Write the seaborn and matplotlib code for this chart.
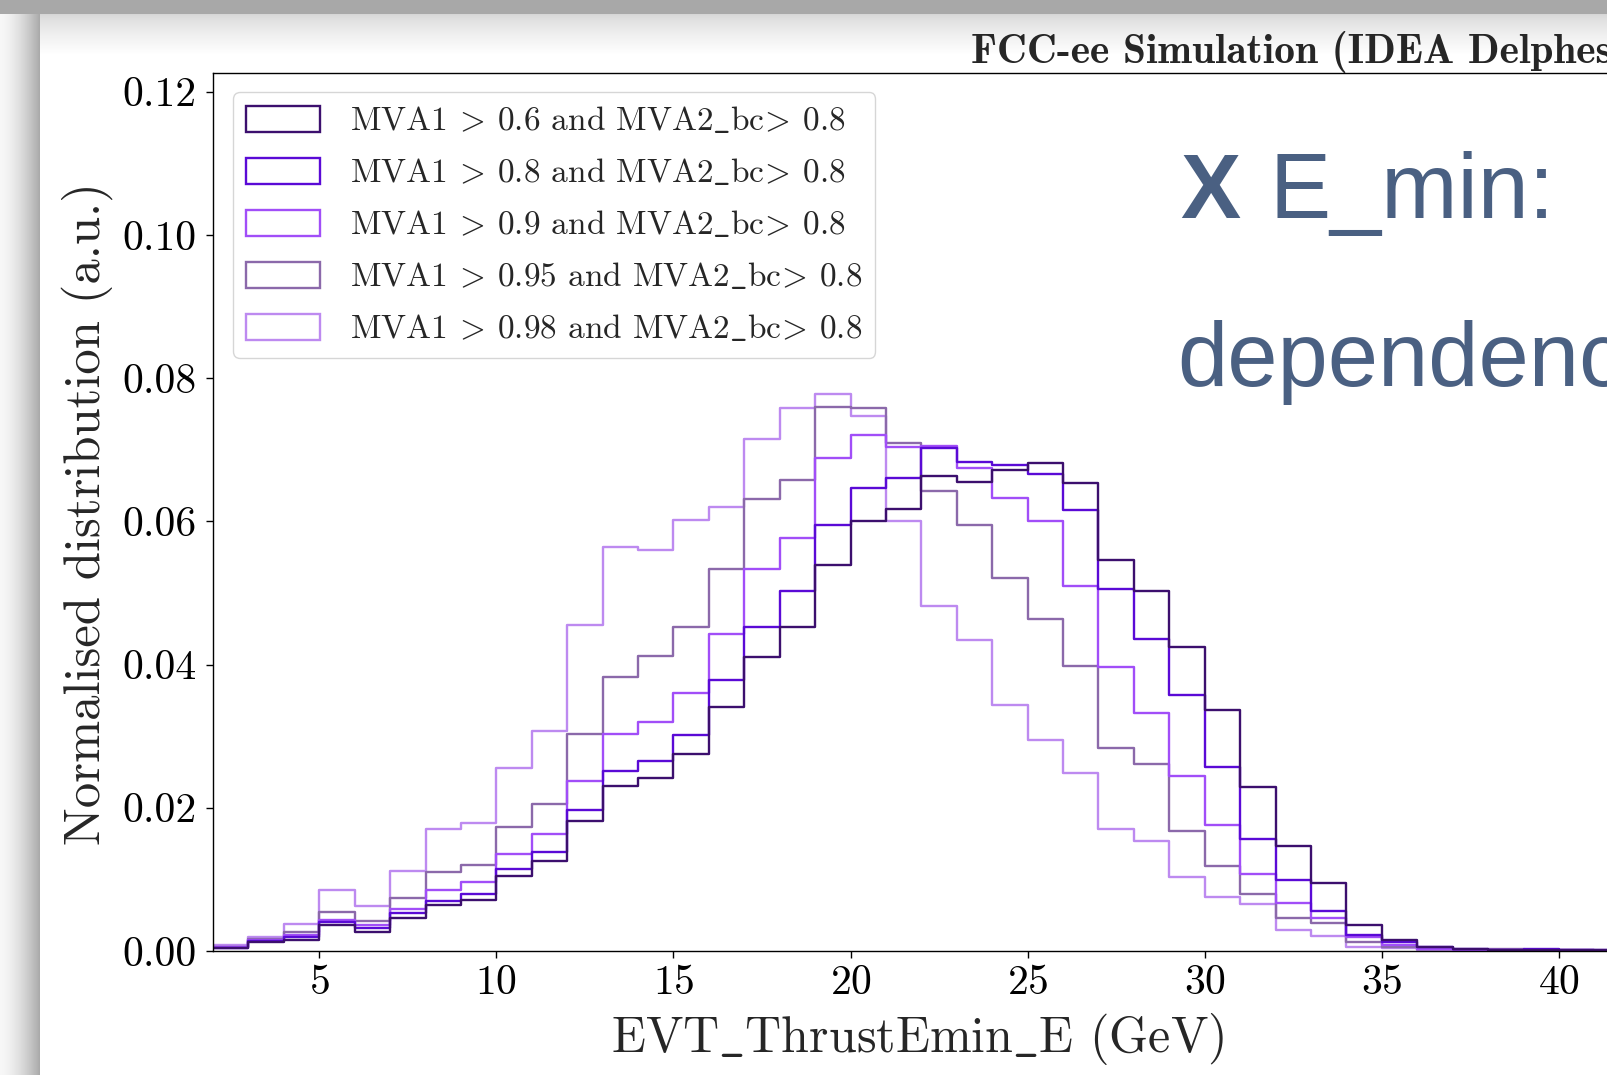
import numpy as np
import pandas as pd
import matplotlib
matplotlib.use("Agg")
import matplotlib.pyplot as plt
import seaborn as sns
from matplotlib.patches import Patch
from matplotlib.ticker import FormatStrFormatter, FixedLocator

# ---------------- data ----------------
bin_edges = list(range(2, 43))          # 1 GeV bins from 2 to 42 GeV
bin_centres = [e + 0.5 for e in bin_edges[:-1]]

labels = [
    r"MVA1 $\!>\!$ 0.6 and MVA2$\_$bc$\!>\!$ 0.8",
    r"MVA1 $\!>\!$ 0.8 and MVA2$\_$bc$\!>\!$ 0.8",
    r"MVA1 $\!>\!$ 0.9 and MVA2$\_$bc$\!>\!$ 0.8",
    r"MVA1 $\!>\!$ 0.95 and MVA2$\_$bc$\!>\!$ 0.8",
    r"MVA1 $\!>\!$ 0.98 and MVA2$\_$bc$\!>\!$ 0.8",
]

mva_060 = [0.0004, 0.0012, 0.0016, 0.0036, 0.0026, 0.0046, 0.0064, 0.0071, 0.0105, 0.0126,
           0.0181, 0.0230, 0.0242, 0.0275, 0.0341, 0.0411, 0.0453, 0.0539, 0.0600, 0.0617,
           0.0663, 0.0655, 0.0671, 0.0681, 0.0653, 0.0546, 0.0502, 0.0425, 0.0337, 0.0229,
           0.0147, 0.0095, 0.0036, 0.0015, 0.0006, 0.0003, 0.0002, 0.0002, 0.0001, 0.0001]
mva_080 = [0.0004, 0.0014, 0.0019, 0.0041, 0.0032, 0.0053, 0.0070, 0.0080, 0.0115, 0.0138,
           0.0197, 0.0252, 0.0266, 0.0302, 0.0378, 0.0453, 0.0502, 0.0595, 0.0647, 0.0661,
           0.0702, 0.0683, 0.0678, 0.0666, 0.0616, 0.0505, 0.0436, 0.0357, 0.0257, 0.0156,
           0.0099, 0.0056, 0.0023, 0.0012, 0.0005, 0.0003, 0.0002, 0.0003, 0.0001, 0.0001]
mva_090 = [0.0005, 0.0016, 0.0022, 0.0043, 0.0036, 0.0058, 0.0085, 0.0096, 0.0135, 0.0164,
           0.0238, 0.0303, 0.0320, 0.0360, 0.0443, 0.0534, 0.0577, 0.0689, 0.0720, 0.0704,
           0.0705, 0.0675, 0.0632, 0.0600, 0.0509, 0.0396, 0.0333, 0.0244, 0.0176, 0.0107,
           0.0067, 0.0046, 0.0020, 0.0008, 0.0003, 0.0002, 0.0001, 0.0002, 0.0001, 0.0000]
mva_095 = [0.0005, 0.0017, 0.0026, 0.0055, 0.0042, 0.0074, 0.0110, 0.0120, 0.0173, 0.0205,
           0.0303, 0.0382, 0.0412, 0.0453, 0.0534, 0.0631, 0.0657, 0.0760, 0.0758, 0.0709,
           0.0642, 0.0595, 0.0521, 0.0463, 0.0398, 0.0284, 0.0261, 0.0168, 0.0119, 0.0079,
           0.0046, 0.0039, 0.0012, 0.0006, 0.0003, 0.0002, 0.0003, 0.0002, 0.0001, 0.0000]
mva_098 = [0.0008, 0.0019, 0.0038, 0.0085, 0.0063, 0.0112, 0.0171, 0.0179, 0.0255, 0.0307,
           0.0455, 0.0564, 0.0560, 0.0602, 0.0620, 0.0715, 0.0758, 0.0778, 0.0747, 0.0600,
           0.0482, 0.0434, 0.0344, 0.0294, 0.0249, 0.0171, 0.0153, 0.0104, 0.0075, 0.0065,
           0.0029, 0.0021, 0.0005, 0.0004, 0.0002, 0.0001, 0.0001, 0.0001, 0.0000, 0.0000]

series = [mva_060, mva_080, mva_090, mva_095, mva_098]
colors = ["#3c0f6e", "#5a0ad6", "#a14ef8", "#8b69aa", "#bd8af0"]

x_ticks = [5, 10, 15, 20, 25, 30, 35, 40]
y_ticks = [0.00, 0.02, 0.04, 0.06, 0.08, 0.10, 0.12]

df = pd.DataFrame({
    "E": np.tile(bin_centres, len(series)),
    "w": np.concatenate([np.asarray(s, dtype=float) for s in series]),
    "cut": np.repeat(labels, len(bin_centres)),
})

# ---------------- styling ----------------
sns.set_style("ticks")
plt.rcParams["font.family"] = ["cmr10", "DejaVu Serif"]
plt.rcParams["mathtext.fontset"] = "cm"
plt.rcParams["axes.formatter.use_mathtext"] = True
plt.rcParams["axes.unicode_minus"] = False

W, H = 1608, 1075
fig = plt.figure(figsize=(W / 100, H / 100), dpi=100)
fig.patch.set_facecolor("white")

# slide background with its drop shadows
bg = np.ones((H, W, 3))
yy = np.arange(H)[:, None]
top_shadow = np.clip((yy - 14) / 40.0, 0, 1)
inner = 0.84 + 0.16 * top_shadow ** 0.7
bg[:, :, :] = inner[:, :, None] * np.ones((1, W, 1))
left = 0.97 - 0.30 * (np.arange(40) / 39.0) ** 1.6
bg[:, :40, :] = left[None, :, None]
bg[:14, :, :] = 0.66
fig.figimage(bg, xo=0, yo=0, origin="upper", zorder=-5)

px_per_gev = 35.42
ax_left, ax_bottom, ax_top = 213, 951, 73
xlim = (2, 44)
ax = fig.add_axes([ax_left / W, 1 - ax_bottom / H,
                   (xlim[1] - xlim[0]) * px_per_gev / W, (ax_bottom - ax_top) / H])
ax.set_facecolor("white")

sns.histplot(data=df, x="E", weights="w", hue="cut", hue_order=labels,
             bins=bin_edges, element="step", fill=False, palette=colors,
             linewidth=1.7, legend=False, ax=ax)

ax.set_xlim(*xlim)
ax.set_ylim(0, 0.1226)
ax.xaxis.set_major_locator(FixedLocator(x_ticks))
ax.yaxis.set_major_locator(FixedLocator(y_ticks))
ax.yaxis.set_major_formatter(FormatStrFormatter("%.2f"))
ax.set_xlabel("")
ax.set_ylabel("")
for sp in ax.spines.values():
    sp.set_visible(True)
    sp.set_linewidth(1.0)
    sp.set_color("black")
ax.tick_params(axis="both", direction="out", length=5, width=1.0, labelsize=30,
               colors="black")
ax.tick_params(axis="y", pad=7)
ax.tick_params(axis="x", pad=5)

handles = [Patch(facecolor="none", edgecolor=c, linewidth=1.7) for c in colors]
leg = ax.legend(handles, labels, loc="upper left",
                bbox_to_anchor=(233 / W, 1 - 92 / H), bbox_transform=fig.transFigure,
                borderaxespad=0, fontsize=24, handlelength=2.2, handleheight=0.82,
                handletextpad=0.9, labelspacing=0.63, frameon=True, fancybox=True,
                framealpha=0.8, edgecolor="#cccccc")

# axis labels and header
fig.text(87 / W, 1 - 514 / H, "Normalised distribution (a.u.)", rotation=90,
         ha="center", va="center", fontsize=36.5)
fig.text(918 / W, 1 - 1039 / H, r"EVT$\_$ThrustEmin$\_$E (GeV)",
         ha="center", va="center", fontsize=36)
fig.text(971 / W, 1 - 63 / H, "FCC-ee Simulation (IDEA Delphes)",
         family="cmb10", ha="left", va="baseline", fontsize=29.8)

# slide overlay text
slide_col = "#4a6082"
fig.text(1180 / W, 1 - 218 / H, "X", family=["Liberation Sans", "DejaVu Sans"],
         fontweight="bold", fontsize=65, color=slide_col, ha="left", va="baseline", zorder=10)
fig.text(1270 / W, 1 - 218 / H, "E_min:", family=["Liberation Sans", "DejaVu Sans"],
         fontsize=66, color=slide_col, ha="left", va="baseline", zorder=10)
fig.text(1177 / W, 1 - 386 / H, "dependence", family=["Liberation Sans", "DejaVu Sans"],
         fontsize=65, color=slide_col, ha="left", va="baseline", zorder=10)

fig.savefig("out.png", dpi=100)
